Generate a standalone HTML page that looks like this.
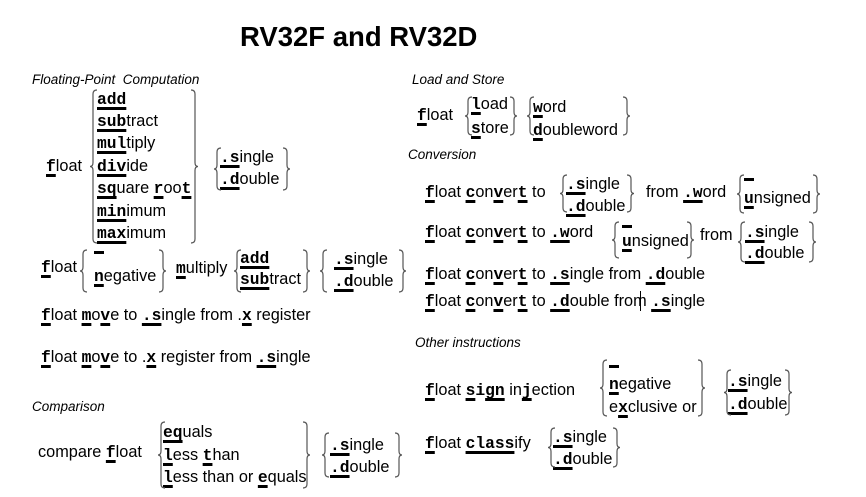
<!DOCTYPE html>
<html><head><meta charset="utf-8"><style>
html,body{margin:0;padding:0;background:#fff;}
body{width:866px;height:497px;position:relative;overflow:hidden;font-family:"Liberation Sans",sans-serif;color:#000;}
.t{position:absolute;font-size:16.3px;line-height:18px;white-space:nowrap;}
.h{position:absolute;font-size:13.5px;font-style:italic;line-height:16px;white-space:nowrap;}
b{font-family:"Liberation Mono",monospace;font-weight:bold;text-decoration:underline;text-decoration-thickness:3px;text-underline-offset:3px;}
b.n{text-decoration:none;}
.d{display:inline-block;width:10px;height:3px;background:#000;vertical-align:top;margin-top:3px;}
svg{position:absolute;left:0;top:0;}
</style></head><body>
<div style="position:absolute;left:240px;top:22px;font-size:27.5px;font-weight:bold;line-height:30px;">RV32F and RV32D</div>

<div class="h" style="left:32px;top:72px">Floating-Point&nbsp; Computation</div>
<div class="t" style="left:46px;top:157px"><b>f</b>loat</div>
<div class="t" style="left:97px;top:90px"><b>add</b></div>
<div class="t" style="left:97px;top:112px"><b>sub</b>tract</div>
<div class="t" style="left:97px;top:134px"><b>mul</b>tiply</div>
<div class="t" style="left:97px;top:157px"><b>div</b>ide</div>
<div class="t" style="left:97px;top:179px"><b>sq</b>uare <b>r</b>oo<b>t</b></div>
<div class="t" style="left:97px;top:202px"><b>min</b>imum</div>
<div class="t" style="left:97px;top:224px"><b>max</b>imum</div>
<div class="t" style="left:220px;top:148px"><b>.s</b>ingle</div>
<div class="t" style="left:220px;top:170px"><b>.d</b>ouble</div>

<div class="t" style="left:41px;top:258px"><b>f</b>loat</div>
<div class="t" style="left:94px;top:248px"><span class="d"></span></div>
<div class="t" style="left:94px;top:267px"><b>n</b>egative</div>
<div class="t" style="left:176px;top:259px"><b>m</b>ultiply</div>
<div class="t" style="left:240px;top:249px"><b>add</b></div>
<div class="t" style="left:240px;top:270px"><b>sub</b>tract</div>
<div class="t" style="left:334px;top:250px"><b>.s</b>ingle</div>
<div class="t" style="left:334px;top:272px"><b>.d</b>ouble</div>

<div class="t" style="left:41px;top:306px"><b>f</b>loat <b>m</b>o<b>v</b>e to <b>.s</b>ingle from .<b>x</b> register</div>
<div class="t" style="left:41px;top:348px"><b>f</b>loat <b>m</b>o<b>v</b>e to .<b>x</b> register from <b>.s</b>ingle</div>

<div class="h" style="left:32px;top:399px">Comparison</div>
<div class="t" style="left:38px;top:443px">compare <b>f</b>loat</div>
<div class="t" style="left:163px;top:423px"><b>eq</b>uals</div>
<div class="t" style="left:163px;top:446px"><b>l</b>ess <b>t</b>han</div>
<div class="t" style="left:163px;top:468px"><b>l</b>ess than or <b>e</b>quals</div>
<div class="t" style="left:330px;top:436px"><b>.s</b>ingle</div>
<div class="t" style="left:330px;top:458px"><b>.d</b>ouble</div>

<div class="h" style="left:412px;top:72px">Load and Store</div>
<div class="t" style="left:417px;top:106px"><b>f</b>loat</div>
<div class="t" style="left:471px;top:95px"><b>l</b>oad</div>
<div class="t" style="left:471px;top:119px"><b>s</b>tore</div>
<div class="t" style="left:533px;top:98px"><b>w</b>ord</div>
<div class="t" style="left:533px;top:121px"><b>d</b>oubleword</div>

<div class="h" style="left:408px;top:147px">Conversion</div>
<div class="t" style="left:425px;top:183px"><b>f</b>loat <b>c</b>on<b>v</b>er<b>t</b> to</div>
<div class="t" style="left:566px;top:175px"><b>.s</b>ingle</div>
<div class="t" style="left:566px;top:197px"><b>.d</b>ouble</div>
<div class="t" style="left:646px;top:183px">from <b>.w</b>ord</div>
<div class="t" style="left:744px;top:175px"><span class="d"></span></div>
<div class="t" style="left:744px;top:189px"><b>u</b>nsigned</div>

<div class="t" style="left:425px;top:223px"><b>f</b>loat <b>c</b>on<b>v</b>er<b>t</b> to <b>.w</b>ord</div>
<div class="t" style="left:622px;top:222px"><span class="d"></span></div>
<div class="t" style="left:622px;top:232px"><b>u</b>nsigned</div>
<div class="t" style="left:700px;top:226px">from</div>
<div class="t" style="left:745px;top:223px"><b>.s</b>ingle</div>
<div class="t" style="left:745px;top:244px"><b>.d</b>ouble</div>

<div class="t" style="left:425px;top:265px"><b>f</b>loat <b>c</b>on<b>v</b>er<b>t</b> to <b>.s</b>ingle from <b>.d</b>ouble</div>
<div class="t" style="left:425px;top:292px"><b>f</b>loat <b>c</b>on<b>v</b>er<b>t</b> to <b>.d</b>ouble from <b>.s</b>ingle</div>
<div style="position:absolute;left:640px;top:291px;width:1px;height:20px;background:#000"></div>

<div class="h" style="left:415px;top:335px">Other instructions</div>
<div class="t" style="left:425px;top:381px"><b>f</b>loat <b>s</b><b class="n">i</b><b>gn</b> in<b>j</b>ection</div>
<div class="t" style="left:609px;top:362px"><span class="d"></span></div>
<div class="t" style="left:609px;top:375px"><b>n</b>egative</div>
<div class="t" style="left:609px;top:398px">e<b>x</b>clusive or</div>
<div class="t" style="left:728px;top:372px"><b>.s</b>ingle</div>
<div class="t" style="left:728px;top:395px"><b>.d</b>ouble</div>

<div class="t" style="left:425px;top:434px"><b>f</b>loat <b>class</b>ify</div>
<div class="t" style="left:553px;top:428px"><b>.s</b>ingle</div>
<div class="t" style="left:553px;top:450px"><b>.d</b>ouble</div>

<svg width="866" height="497" fill="none" stroke="#555" stroke-width="1.2">
<path d="M97,90 Q93,90 93,94 V162.5 Q93,166.5 90,166.5 Q93,166.5 93,170.5 V239 Q93,243 97,243"/>
<path d="M191,90 Q195,90 195,94 V162.5 Q195,166.5 198,166.5 Q195,166.5 195,170.5 V239 Q195,243 191,243"/>
<path d="M221,148 Q217,148 217,152 V165 Q217,169 214,169 Q217,169 217,173 V186 Q217,190 221,190"/>
<path d="M283,148 Q287,148 287,152 V165 Q287,169 290,169 Q287,169 287,173 V186 Q287,190 283,190"/>
<path d="M87,250 Q83,250 83,254 V267 Q83,271 80,271 Q83,271 83,275 V288 Q83,292 87,292"/>
<path d="M159,250 Q163,250 163,254 V267 Q163,271 166,271 Q163,271 163,275 V288 Q163,292 159,292"/>
<path d="M241,250 Q237,250 237,254 V267 Q237,271 234,271 Q237,271 237,275 V288 Q237,292 241,292"/>
<path d="M303,250 Q307,250 307,254 V267 Q307,271 310,271 Q307,271 307,275 V288 Q307,292 303,292"/>
<path d="M327,250 Q323,250 323,254 V267 Q323,271 320,271 Q323,271 323,275 V288 Q323,292 327,292"/>
<path d="M399,250 Q403,250 403,254 V267 Q403,271 406,271 Q403,271 403,275 V288 Q403,292 399,292"/>
<path d="M165,422 Q161,422 161,426 V451 Q161,455 158,455 Q161,455 161,459 V484 Q161,488 165,488"/>
<path d="M303,422 Q307,422 307,426 V451 Q307,455 310,455 Q307,455 307,459 V484 Q307,488 303,488"/>
<path d="M329,433 Q325,433 325,437 V451 Q325,455 322,455 Q325,455 325,459 V473 Q325,477 329,477"/>
<path d="M395,433 Q399,433 399,437 V451 Q399,455 402,455 Q399,455 399,459 V473 Q399,477 395,477"/>
<path d="M472,97 Q468,97 468,101 V112 Q468,116 465,116 Q468,116 468,120 V131 Q468,135 472,135"/>
<path d="M510,97 Q514,97 514,101 V112 Q514,116 517,116 Q514,116 514,120 V131 Q514,135 510,135"/>
<path d="M534,97 Q530,97 530,101 V112 Q530,116 527,116 Q530,116 530,120 V131 Q530,135 534,135"/>
<path d="M623,97 Q627,97 627,101 V112 Q627,116 630,116 Q627,116 627,120 V131 Q627,135 623,135"/>
<path d="M567,175 Q563,175 563,179 V189.5 Q563,193.5 560,193.5 Q563,193.5 563,197.5 V208 Q563,212 567,212"/>
<path d="M627,175 Q631,175 631,179 V189.5 Q631,193.5 634,193.5 Q631,193.5 631,197.5 V208 Q631,212 627,212"/>
<path d="M744,175 Q740,175 740,179 V190 Q740,194 737,194 Q740,194 740,198 V209 Q740,213 744,213"/>
<path d="M813,175 Q817,175 817,179 V190 Q817,194 820,194 Q817,194 817,198 V209 Q817,213 813,213"/>
<path d="M619,222 Q615,222 615,226 V236 Q615,240 612,240 Q615,240 615,244 V254 Q615,258 619,258"/>
<path d="M687,222 Q691,222 691,226 V236 Q691,240 694,240 Q691,240 691,244 V254 Q691,258 687,258"/>
<path d="M745,222 Q741,222 741,226 V238 Q741,242 738,242 Q741,242 741,246 V258 Q741,262 745,262"/>
<path d="M809,222 Q813,222 813,226 V238 Q813,242 816,242 Q813,242 813,246 V258 Q813,262 809,262"/>
<path d="M607,360 Q603,360 603,364 V384 Q603,388 600,388 Q603,388 603,392 V412 Q603,416 607,416"/>
<path d="M698,360 Q702,360 702,364 V384 Q702,388 705,388 Q702,388 702,392 V412 Q702,416 698,416"/>
<path d="M731,370 Q727,370 727,374 V388.5 Q727,392.5 724,392.5 Q727,392.5 727,396.5 V411 Q727,415 731,415"/>
<path d="M785,370 Q789,370 789,374 V388.5 Q789,392.5 792,392.5 Q789,392.5 789,396.5 V411 Q789,415 785,415"/>
<path d="M555,428 Q551,428 551,432 V443.5 Q551,447.5 548,447.5 Q551,447.5 551,451.5 V463 Q551,467 555,467"/>
<path d="M613,428 Q617,428 617,432 V443.5 Q617,447.5 620,447.5 Q617,447.5 617,451.5 V463 Q617,467 613,467"/>
</svg>
</body></html>
